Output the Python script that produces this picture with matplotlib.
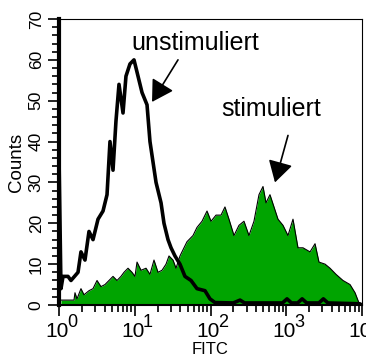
import matplotlib
matplotlib.use('Agg')
import matplotlib.pyplot as plt
from matplotlib.ticker import MultipleLocator, LogLocator, NullFormatter

plt.rcParams['font.family'] = ['Liberation Sans', 'DejaVu Sans']

# unstimulated histogram: log10(FITC) and counts
unstim_log = [0.00, 0.026, 0.053, 0.119, 0.158, 0.251, 0.290, 0.343, 0.396, 0.449,
              0.515, 0.581, 0.634, 0.673, 0.713, 0.752, 0.792, 0.845, 0.884, 0.937,
              0.990, 1.030, 1.096, 1.162, 1.201, 1.241, 1.281, 1.347, 1.386, 1.439,
              1.479, 1.531, 1.597, 1.663, 1.743, 1.822, 1.927, 1.993, 2.059, 2.30,
              2.39, 2.45, 2.95, 3.01, 3.07, 3.15, 3.21, 3.27, 3.43, 3.49,
              3.55, 3.97, 4.00]
unstim_counts = [36.5, 4, 7, 7, 6, 8, 13, 11, 18, 16,
                 21, 23, 27, 40, 33, 45, 54, 47, 56, 59,
                 60, 57, 52, 49, 40, 35, 30, 25, 20, 16,
                 14, 12, 10, 7, 6, 4, 3.5, 1.5, 0.6, 0.5,
                 1.2, 0.5, 0.5, 1.5, 0.5, 0.5, 1.5, 0.5, 0.5, 1.5,
                 0.5, 0.3, 0]

# stimulated histogram
stim_log = [0.026, 0.198, 0.211, 0.238, 0.290, 0.330, 0.396, 0.449, 0.502, 0.554,
            0.607, 0.660, 0.713, 0.766, 0.818, 0.858, 0.911, 0.964, 1.003, 1.030,
            1.083, 1.149, 1.201, 1.254, 1.307, 1.360, 1.413, 1.452, 1.505, 1.545,
            1.597, 1.650, 1.690, 1.769, 1.822, 1.888, 1.954, 2.007, 2.073, 2.139,
            2.191, 2.244, 2.310, 2.376, 2.442, 2.508, 2.574, 2.640, 2.693, 2.733,
            2.785, 2.838, 2.891, 2.957, 3.023, 3.089, 3.155, 3.221, 3.314, 3.380,
            3.432, 3.512, 3.578, 3.657, 3.749, 3.842, 3.908, 3.960, 3.987]
stim_counts = [1.2, 1.2, 3, 1.5, 4, 2.5, 3.5, 4, 6, 4.5,
               5, 6, 7, 6, 7, 8, 9, 8, 7, 10.5,
               8.5, 9, 7.5, 11, 8, 8.5, 10, 12, 11, 9,
               12, 14, 15.5, 17, 19, 20.5, 23, 20.5, 22, 22,
               24, 21, 17, 19.5, 20.5, 17, 20.5, 27, 29, 25,
               27, 24, 21, 19.5, 17, 21, 14, 14, 13, 15,
               10.5, 10, 9, 7.5, 6, 5, 3, 0.5, 0]

x_decades = [0, 1, 2, 3, 4]
y_major = [0, 10, 20, 30, 40, 50, 60, 70]

fig = plt.figure(figsize=(3.66, 3.56), dpi=100)
ax = fig.add_axes([59 / 366, 1 - 305 / 356, (362 - 59) / 366, (305 - 19) / 356])

ux = [10 ** v for v in unstim_log]
sx = [10 ** v for v in stim_log]

ax.fill_between(sx, stim_counts, color='#00a400', lw=0)
ax.plot(sx, stim_counts, color='k', lw=0.8)
ax.plot(ux, unstim_counts, color='k', lw=2.6)

ax.set_xscale('log')
ax.set_xlim(1, 1e4)
ax.set_ylim(0, 70)

ax.spines['left'].set_linewidth(3)
ax.spines['bottom'].set_linewidth(1.5)
ax.spines['top'].set_linewidth(0.8)
ax.spines['right'].set_linewidth(0.8)

ax.set_yticks(y_major)
ax.yaxis.set_minor_locator(MultipleLocator(2))
ax.xaxis.set_major_locator(LogLocator(base=10, numticks=10))
ax.xaxis.set_minor_locator(LogLocator(base=10, subs=range(2, 10), numticks=10))
ax.xaxis.set_major_formatter(NullFormatter())
ax.xaxis.set_minor_formatter(NullFormatter())

ax.tick_params(axis='both', which='major', length=8, width=1.2, direction='out', color='k')
ax.tick_params(axis='both', which='minor', length=5, width=1.2, direction='out', color='k')
ax.tick_params(axis='y', which='major', labelsize=12.5, labelrotation=90, pad=3)
for lab in ax.get_yticklabels():
    lab.set_va('center')

# x tick labels as 10 with a raised exponent
for d in x_decades:
    ax.annotate('10', xy=(10 ** d, 0), xycoords=('data', 'axes fraction'),
                xytext=(-2, -32), textcoords='offset pixels',
                ha='center', va='baseline', fontsize=15)
    ax.annotate(str(d), xy=(10 ** d, 0), xycoords=('data', 'axes fraction'),
                xytext=(8, -22), textcoords='offset pixels',
                ha='left', va='baseline', fontsize=13)

ax.set_ylabel('Counts', fontsize=13.5, labelpad=3)
ax.set_xlabel('FITC', fontsize=12)
ax.xaxis.set_label_coords(0.5, -0.128)

arrow = dict(arrowstyle='-|>,head_length=0.65,head_width=0.38', color='k',
             lw=1.2, mutation_scale=20, shrinkA=0, shrinkB=0)

ax.text(10 ** 1.795, 62.4, 'unstimuliert', fontsize=18, ha='center', va='baseline')
ax.annotate('', xy=(10 ** 1.228, 49.7), xytext=(10 ** 1.571, 60), arrowprops=arrow)

ax.text(10 ** 2.805, 46.3, 'stimuliert', fontsize=18, ha='center', va='baseline')
ax.annotate('', xy=(10 ** 2.851, 30), xytext=(10 ** 3.023, 41.5), arrowprops=arrow)

fig.savefig('out.png', dpi=100)
